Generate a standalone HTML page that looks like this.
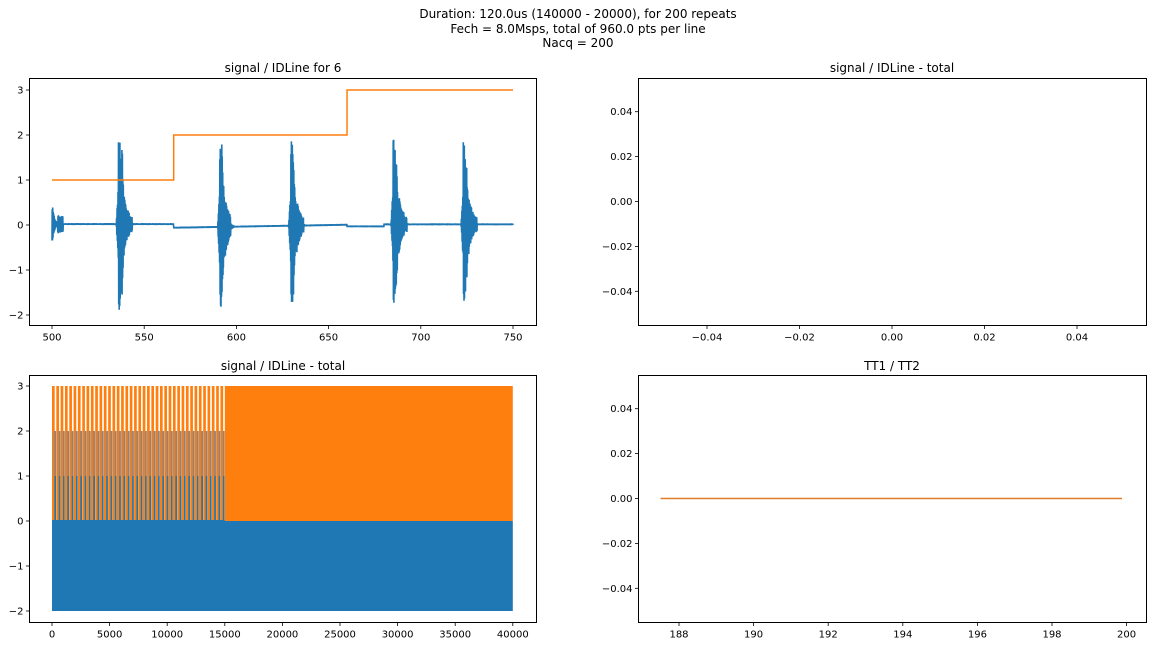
<!DOCTYPE html>
<html><head><meta charset="utf-8"><style>
html,body{margin:0;padding:0;background:#fff;}
svg{display:block;font-family:"DejaVu Sans","Liberation Sans",sans-serif;}
</style></head><body>
<svg id="s" width="1155" height="646" viewBox="0 0 1155 646" xmlns="http://www.w3.org/2000/svg">
<rect width="1155" height="646" fill="#fff"/>
<g font-size="12" text-anchor="middle" fill="#000">
<text x="578" y="18">Duration: 120.0us (140000 - 20000), for 200 repeats</text>
<text x="578" y="33">Fech = 8.0Msps, total of 960.0 pts per line</text>
<text x="578" y="47">Nacq = 200</text>
<text x="283" y="72">signal / IDLine for 6</text>
<text x="892" y="72">signal / IDLine - total</text>
<text x="283" y="370">signal / IDLine - total</text>
<text x="892" y="370">TT1 / TT2</text>
</g>
<g id="plots"></g>
<g id="axes" fill="none" stroke="#000" stroke-width="1">
<rect x="29.5" y="78.5" width="507" height="247"/>
<rect x="638.5" y="78.5" width="508" height="247"/>
<rect x="29.5" y="375.5" width="507" height="247"/>
<rect x="638.5" y="375.5" width="508" height="247"/>
</g>
<g id="ticks" font-size="10" fill="#000"></g>
</svg>
<script>
(function(){
var NS="http://www.w3.org/2000/svg";
var plots=document.getElementById('plots'),ticks=document.getElementById('ticks');
function el(p,t,a,txt){var e=document.createElementNS(NS,t);for(var k in a)e.setAttribute(k,a[k]);if(txt!==undefined)e.textContent=txt;p.appendChild(e);return e;}
var seed=12345;function rnd(){seed=(seed*1103515245+12345)%2147483648;return seed/2147483648;}
function xt(x,y,lab){el(ticks,'line',{x1:x,x2:x,y1:y,y2:y+3.5,stroke:'#000','stroke-width':0.8});el(ticks,'text',{x:x,y:y+15,'text-anchor':'middle'},lab);}
function yt(x,y,lab){el(ticks,'line',{x1:x-3.5,x2:x,y1:y,y2:y,stroke:'#000','stroke-width':0.8});el(ticks,'text',{x:x-6,y:y+3.5,'text-anchor':'end'},lab);}
var X1=function(v){return 52+(v-500)*1.844;},Y1=function(v){return 225-45*v;};
var g1=el(plots,'g',{});
var bursts=[[500,0.4,1.5,0.3],[536,2.0,2,1.0],[537.6,1.65,1,0.6],[591,2.0,2,1.0],[629.5,1.9,2,1.0],[630.5,1.6,1,0.5],[685,2.0,2,1.0],[686.5,1.4,1,0.5],[723,1.85,2,1.0],[724.5,1.3,1,0.5]];
var pts=[];
for(var i=0;i<=1920;i++){var x=500+i*250/1920;
 var base= x<566?0.02:(x<660?(-0.06+(x-566)*0.0007):(x<680?-0.03:0.015));
 var amp=0.02;
 for(var b=0;b<bursts.length;b++){var d=x-bursts[b][0];var A=bursts[b][1],pl=bursts[b][3];
   if(d>-1.2&&d<0) amp=Math.max(amp,A*0.45*(1+d/1.2));
   if(d>=0&&d<pl) amp=Math.max(amp,A);
   if(d>=pl&&d<14) amp=Math.max(amp,A*Math.exp(-(d-pl)/bursts[b][2]*1.3)+(d>3&&d<6?0.18:0));}
 var s=(i%2?1:-1)*amp*(0.75+0.25*rnd());
 pts.push(X1(x).toFixed(1)+','+Y1(base+s).toFixed(1));}
el(g1,'polyline',{points:pts.join(' '),fill:'none',stroke:'#1f77b4','stroke-width':1.6});
el(g1,'polyline',{points:[X1(500),Y1(1),X1(566),Y1(1),X1(566),Y1(2),X1(660),Y1(2),X1(660),Y1(3),X1(750),Y1(3)].join(' ').replace(/(\S+) (\S+)/g,'$1,$2'),fill:'none',stroke:'#ff7f0e','stroke-width':1.5});
[500,550,600,650,700,750].forEach(function(v){xt(X1(v),325.5,v);});
[3,2,1,0,-1,-2].forEach(function(v){yt(29.5,Y1(v),v<0?'\u2212'+(-v):v);});
var ytr=[[0.04,111.7],[0.02,156.6],[0,201.5],[-0.02,246.4],[-0.04,291.3]];
ytr.forEach(function(t){yt(638.5,t[1],(t[0]<0?'\u2212':'')+Math.abs(t[0]).toFixed(2));});
[[-0.04,707],[-0.02,799.5],[0,892],[0.02,984.5],[0.04,1077]].forEach(function(t){xt(t[1],325.5,(t[0]<0?'\u2212':'')+Math.abs(t[0]).toFixed(2));});
var X3=function(v){return 52+v*0.01152;},Y3=function(v){return 521-45*v;};
var g3=el(plots,'g',{});
el(g3,'rect',{x:X3(15000),y:Y3(3),width:X3(40000)-X3(15000),height:135,fill:'#ff7f0e'});
el(g3,'rect',{x:X3(0),y:Y3(0),width:X3(40000)-X3(0),height:90,fill:'#1f77b4'});
var n=40,w=(X3(15000)-X3(0))/n;
for(var k=0;k<n;k++){var x0=X3(0)+k*w;
 el(g3,'rect',{x:x0,y:Y3(3),width:w*0.62,height:135,fill:'#ff7f0e'});
 el(g3,'rect',{x:x0+w*0.55,y:Y3(2),width:w*0.4,height:45,fill:'#9a8070'});
 el(g3,'rect',{x:x0+w*0.55,y:Y3(1),width:w*0.4,height:45,fill:'#1f77b4'});
 el(g3,'rect',{x:x0+w*0.1,y:Y3(2),width:w*0.3,height:45,fill:'#c98650'});
}
el(g3,'rect',{x:X3(0),y:Y3(0)-1,width:X3(15000)-X3(0),height:2,fill:'#1f77b4'});
[0,5000,10000,15000,20000,25000,30000,35000,40000].forEach(function(v){xt(X3(v),622.5,v);});
[3,2,1,0,-1,-2].forEach(function(v){yt(29.5,Y3(v),v<0?'\u2212'+(-v):v);});
el(plots,'line',{x1:660.5,x2:1122,y1:498.5,y2:498.5,stroke:'#e07b28','stroke-width':1.5});
[[0.04,408.7],[0.02,453.6],[0,498.5],[-0.02,543.4],[-0.04,588.3]].forEach(function(t){yt(638.5,t[1],(t[0]<0?'\u2212':'')+Math.abs(t[0]).toFixed(2));});
[188,190,192,194,196,198,200].forEach(function(v){xt(679+(v-188)*37.3,622.5,v);});
})();
</script>
</body></html>
